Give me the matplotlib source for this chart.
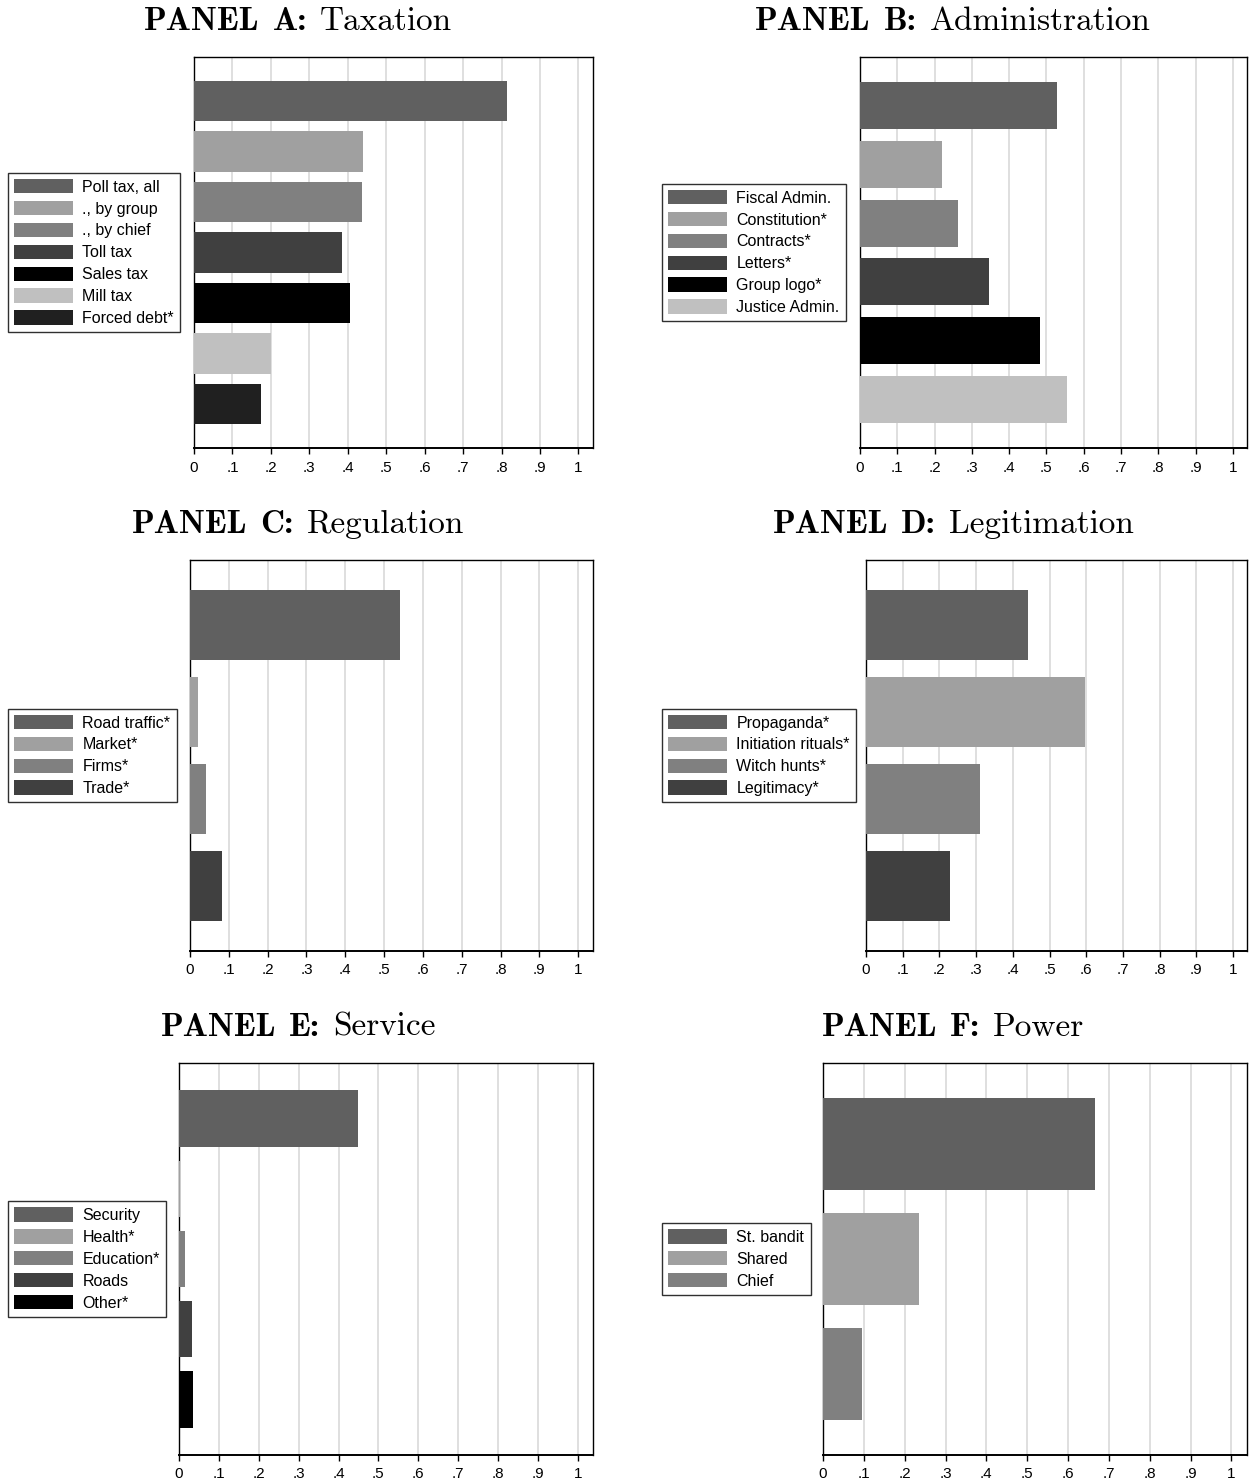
import matplotlib
matplotlib.use("Agg")
import matplotlib.pyplot as plt
from matplotlib.patches import Patch
import numpy as np

plt.rcParams["font.family"] = ["Liberation Sans", "DejaVu Sans"]

# Shares by panel
tax_labels = ["Poll tax, all", "., by group", "., by chief", "Toll tax",
              "Sales tax", "Mill tax", "Forced debt*"]
tax_values = [0.813, 0.440, 0.438, 0.385, 0.407, 0.201, 0.175]

admin_labels = ["Fiscal Admin.", "Constitution*", "Contracts*", "Letters*",
                "Group logo*", "Justice Admin."]
admin_values = [0.529, 0.220, 0.262, 0.345, 0.483, 0.554]

reg_labels = ["Road traffic*", "Market*", "Firms*", "Trade*"]
reg_values = [0.541, 0.021, 0.041, 0.083]

legit_labels = ["Propaganda*", "Initiation rituals*", "Witch hunts*", "Legitimacy*"]
legit_values = [0.442, 0.597, 0.311, 0.228]

serv_labels = ["Security", "Health*", "Education*", "Roads", "Other*"]
serv_values = [0.450, 0.003, 0.015, 0.032, 0.036]

power_labels = ["St. bandit", "Shared", "Chief"]
power_values = [0.666, 0.236, 0.096]

panel_letters = ["A", "B", "C", "D", "E", "F"]
panel_names = ["Taxation", "Administration", "Regulation", "Legitimation",
               "Service", "Power"]

# Stata s2mono-like gray scale
greys = ["#606060", "#a0a0a0", "#808080", "#404040", "#000000", "#c0c0c0", "#202020"]

W, H = 1250, 1483
fig = plt.figure(figsize=(W / 100, H / 100), dpi=100)
renderer = fig.canvas.get_renderer()

# axes boxes in pixels: left, top, right, bottom
boxes = [(194, 57, 593, 448), (860, 57, 1247, 448),
         (190, 560, 593, 951), (866, 560, 1247, 951),
         (179, 1063, 593, 1455), (823, 1063, 1247, 1455)]
title_x = [298, 953]
legend_x = [8, 662]

panels = [(tax_labels, tax_values), (admin_labels, admin_values),
          (reg_labels, reg_values), (legit_labels, legit_values),
          (serv_labels, serv_values), (power_labels, power_values)]

ticks = np.round(np.arange(0, 1.01, 0.1), 1)
tick_text = ["0"] + ["." + str(i) for i in range(1, 10)] + ["1"]

TITLE_FS = 24
GAP = 13  # word space in the titles, pixels


def panel_title(cx, base_y, words):
    # words: list of (text, family); laid out one by one, centred on cx
    items = [fig.text(0, 1 - base_y / H, w, family=fam, fontsize=TITLE_FS,
                      va="baseline", ha="left") for w, fam in words]
    widths = [it.get_window_extent(renderer).width for it in items]
    total = sum(widths) + GAP * (len(items) - 1)
    x = cx - total / 2
    for it, w in zip(items, widths):
        it.set_x(x / W)
        x += w + GAP


for k, (labels, values) in enumerate(panels):
    l, t, r, b = boxes[k]
    ax = fig.add_axes([l / W, 1 - b / H, (r - l) / W, (b - t) / H])
    n = len(values)
    pos = np.arange(n)
    cols = greys[:n]
    ax.barh(pos, values, height=0.8, color=cols, zorder=3)
    pad = 0.575 + 0.043 * n
    ax.set_ylim(n - 1 + pad, -pad)
    ax.set_xlim(0, 1.038)
    ax.set_yticks([])
    ax.set_xticks(ticks)
    ax.set_xticklabels(tick_text, fontsize=11)
    ax.tick_params(axis="x", direction="out", length=4, width=1, pad=5)
    for x in ticks[1:]:
        ax.axvline(x, color="#dcdcdc", lw=1.3, zorder=1)
    for s in ax.spines.values():
        s.set_color("black")
        s.set_linewidth(1.0)
    ax.spines["bottom"].set_linewidth(1.4)

    col = k % 2
    panel_title(title_x[col], t - 27,
                [("PANEL", "cmb10"), (panel_letters[k] + ":", "cmb10"),
                 (panel_names[k], "cmr10")])

    handles = [Patch(facecolor=c, edgecolor="none") for c in cols]
    leg = fig.legend(handles, labels, loc="center left",
                     bbox_to_anchor=(legend_x[col] / W, 1 - (t + b) / 2 / H),
                     fontsize=11.5, handlelength=3.7, handleheight=1.0,
                     handletextpad=0.55, labelspacing=0.39, borderpad=0.4,
                     borderaxespad=0, fancybox=False, framealpha=1)
    leg.get_frame().set_edgecolor("#303030")
    leg.get_frame().set_linewidth(1.0)

fig.savefig("out.png", dpi=100)
